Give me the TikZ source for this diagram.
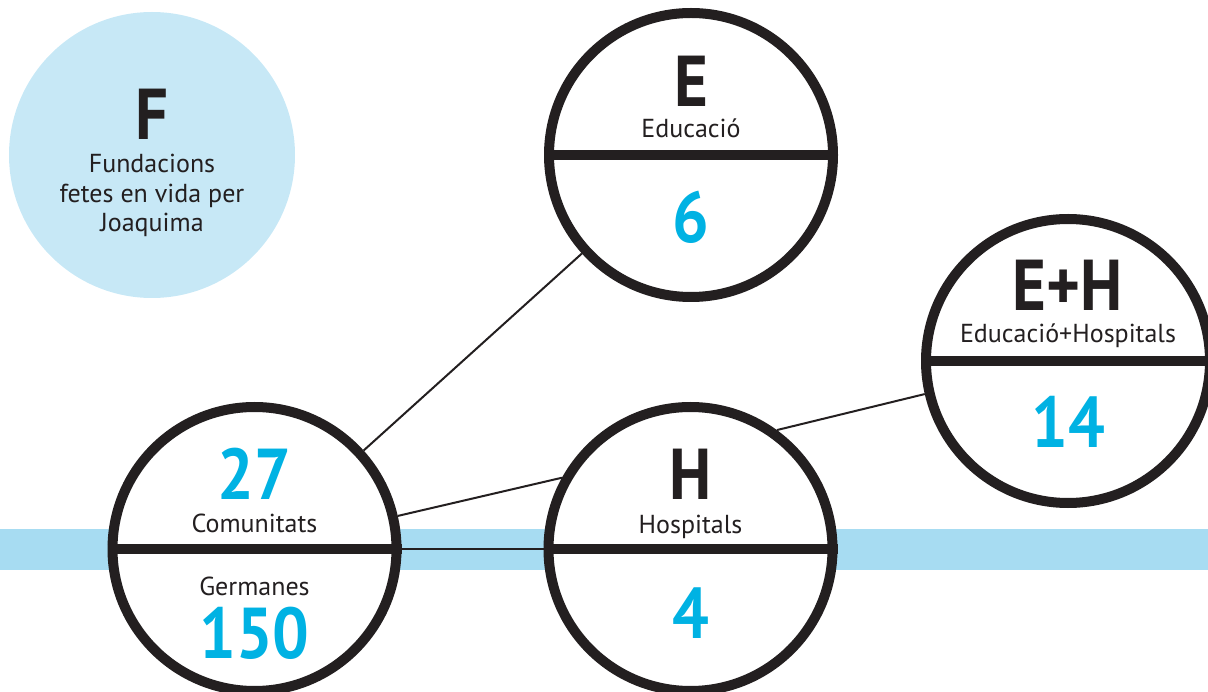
\documentclass[tikz,border=0pt]{standalone}
\usepackage{fontspec}
\setmainfont{PT Sans}
\newfontfamily\bignum[FakeStretch=0.9]{PT Sans}
\definecolor{ink}{HTML}{231F20}
\definecolor{cyantxt}{HTML}{00B2E3}
\definecolor{paleblue}{HTML}{C7E8F6}
\definecolor{bandblue}{HTML}{A7DCF2}
\tikzset{
  ring/.style={circle, draw=ink, line width=10pt, fill=white, minimum size=284pt, inner sep=0pt},
  softdisc/.style={circle, fill=paleblue, minimum size=286pt, inner sep=0pt},
  bigtxt/.style={font=\fontsize{72}{72}\bignum\bfseries, text=ink, anchor=base, inner sep=0pt},
  numtxt/.style={bigtxt, text=cyantxt},
  lbltxt/.style={font=\fontsize{26}{29.5}\selectfont, text=ink, anchor=base, inner sep=0pt},
  link/.style={draw=ink, line width=2pt},
  divider/.style={draw=ink, line width=10pt}
}
\begin{document}
\begin{tikzpicture}[x=1pt,y=-1pt]
\useasboundingbox (0,0) rectangle (1208,692);
\clip (0,0) rectangle (1208,692);
% background band
\fill[bandblue] (0,529) rectangle (1208,570);
% F disc
\node[softdisc] (F) at (152,155) {};
\node[bigtxt] (Ft) at (152,140) {F};
\node[lbltxt] (Fl1) at (152,173) {Fundacions};
\node[lbltxt] (Fl2) at (152,202.5) {fetes en vida per};
\node[lbltxt] (Fl3) at (152,232) {Joaquima};
% circles
\node[ring] (E) at (691,155) {};
\node[ring] (EH) at (1068,361) {};
\node[ring] (C) at (254.5,549) {};
\node[ring] (H) at (690.5,549) {};
% connectors
\draw[link] (C) -- (E);
\draw[link] (C.13) -- (H.151);
\draw[link] (C.east) -- (H.west);
\draw[link] (H.54) -- (EH.193);
% dividers
\draw[divider] (E.west) -- (E.east);
\draw[divider] (EH.west) -- (EH.east);
\draw[divider] (C.west) -- (C.east);
\draw[divider] (H.west) -- (H.east);
% E texts
\node[bigtxt] (Et) at (691,107) {E};
\node[lbltxt] (El) at (691,138) {Educació};
\node[numtxt] (En) at (691,243) {6};
% E+H texts
\node[bigtxt] (EHt) at (1068,311) {E+H};
\node[lbltxt] (EHl) at (1068,343) {Educació+Hospitals};
\node[numtxt] (EHn) at (1068,448) {14};
% Comunitats texts
\node[numtxt] (Cn) at (254.5,500) {27};
\node[lbltxt] (Cl) at (254.5,532) {Comunitats};
\node[lbltxt] (Gl) at (254.5,595) {Germanes};
\node[numtxt] (Gn) at (254.5,658) {150};
% H texts
\node[bigtxt] (Ht) at (690.5,500) {H};
\node[lbltxt] (Hl) at (690.5,533) {Hospitals};
\node[numtxt] (Hn) at (690.5,638) {4};
\end{tikzpicture}
\end{document}
